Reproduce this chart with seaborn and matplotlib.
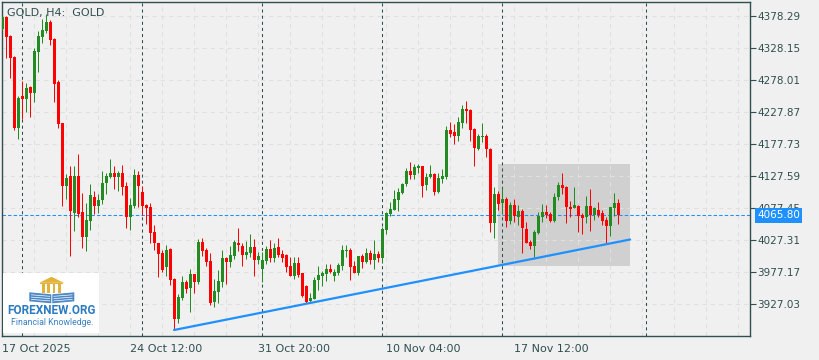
import matplotlib
matplotlib.use("Agg")
import matplotlib.pyplot as plt
import matplotlib.transforms as mtransforms
from matplotlib.patches import Rectangle, Polygon
import numpy as np
import pandas as pd
import seaborn as sns

# H4 candles, one per bar
opens = [
    4357.5, 4377.2, 4347.5, 4314.6, 4203.3, 4253.0, 4248.7, 4266.6, 4258.1, 4322.4,
    4345.9, 4355.3, 4368.9, 4342.3, 4274.9, 4210.7, 4112.4, 4127.6, 4069.2, 4127.6,
    4070.7, 4032.5, 4057.6, 4094.2, 4081.1, 4090.0, 4116.2, 4126.0, 4132.8, 4126.5,
    4132.8, 4111.9, 4063.8, 4080.6, 4128.7, 4102.5, 4082.2, 4079.0, 4039.8, 4023.1,
    4007.4, 3985.5, 4012.7, 3966.2, 3903.5, 3936.9, 3961.5, 3952.6, 3974.0, 3962.0,
    4024.2, 4011.7, 3994.4, 3930.2, 3946.3, 3962.0, 3999.1, 3992.8, 4002.2, 4023.1,
    4018.4, 4003.8, 4007.4, 4016.4, 3996.0, 3981.9, 3994.9, 4013.2, 3999.6, 4015.9,
    4005.4, 4003.8, 3986.6, 3971.4, 3991.8, 3976.1, 3955.2, 3932.2, 3934.9, 3964.6,
    3970.9, 3974.0, 3981.9, 3970.9, 3975.1, 3986.6, 4010.1, 4011.7, 3986.6, 3976.1,
    4002.7, 3993.3, 4007.4, 3996.0, 4005.4, 3999.6, 4043.0, 4068.1, 4074.3, 4090.0,
    4101.0, 4114.6, 4135.4, 4129.6, 4140.6, 4143.3, 4113.5, 4125.6, 4130.7, 4103.0,
    4122.4, 4126.5, 4199.7, 4196.6, 4190.8, 4211.1, 4232.6, 4231.0, 4201.2, 4169.9,
    4189.2, 4190.3, 4169.9, 4054.4, 4099.4, 4085.3, 4091.6, 4057.6, 4082.2, 4063.8,
    4073.2, 4044.5, 4024.7, 4017.9, 4038.8, 4063.8, 4071.7, 4068.1, 4057.6, 4094.2,
    4113.5, 4110.8, 4079.5, 4078.0, 4080.6, 4066.5, 4062.9, 4080.6, 4066.5, 4074.3,
    4069.6, 4058.6, 4049.7, 4078.0, 4085.8,
]
highs = [
    4378.3, 4378.8, 4349.0, 4315.6, 4253.0, 4276.0, 4272.9, 4268.2, 4328.7, 4355.3,
    4373.6, 4381.9, 4372.1, 4343.8, 4278.0, 4210.7, 4131.2, 4143.3, 4143.3, 4161.6,
    4100.5, 4084.8, 4114.6, 4104.1, 4098.9, 4135.9, 4131.8, 4154.2, 4143.3, 4135.4,
    4144.8, 4118.7, 4093.6, 4138.1, 4135.0, 4111.9, 4083.7, 4085.8, 4050.8, 4023.1,
    4011.7, 4019.0, 4014.3, 3968.3, 3942.2, 3970.9, 3964.6, 3981.9, 3974.0, 4028.4,
    4030.9, 4015.3, 4007.4, 3966.2, 3980.3, 4011.7, 4001.2, 4018.4, 4027.3, 4046.1,
    4023.1, 4026.2, 4036.7, 4028.9, 4009.0, 4009.0, 4018.4, 4027.3, 4022.1, 4030.9,
    4011.7, 4005.4, 4000.2, 4000.2, 4000.2, 3976.1, 3956.8, 3943.8, 3969.8, 3986.6,
    3978.7, 3989.7, 3990.2, 3981.4, 3991.8, 4019.5, 4019.5, 4014.3, 3994.4, 4002.7,
    4004.9, 4015.3, 4011.7, 4027.3, 4010.1, 4047.2, 4071.2, 4086.4, 4105.6, 4108.3,
    4116.6, 4140.6, 4149.5, 4146.4, 4146.4, 4143.3, 4131.8, 4144.8, 4131.8, 4131.8,
    4138.6, 4206.0, 4212.2, 4208.6, 4220.5, 4238.9, 4245.1, 4232.1, 4202.3, 4193.4,
    4210.7, 4193.4, 4171.0, 4109.9, 4104.1, 4108.3, 4094.2, 4087.3, 4091.1, 4082.2,
    4075.4, 4056.0, 4027.3, 4043.0, 4071.7, 4083.7, 4082.2, 4071.7, 4101.4, 4117.7,
    4131.8, 4111.9, 4088.4, 4109.9, 4082.2, 4069.2, 4096.3, 4107.2, 4078.6, 4087.3,
    4074.3, 4063.8, 4079.5, 4100.5, 4091.1,
]
lows = [
    4356.4, 4312.5, 4281.6, 4199.7, 4185.6, 4217.4, 4228.4, 4220.5, 4244.0, 4291.0,
    4336.5, 4352.2, 4332.9, 4244.0, 4203.3, 4081.1, 4092.0, 4002.7, 4041.9, 4063.8,
    4014.3, 4010.6, 4043.0, 4068.1, 4069.2, 4084.2, 4098.9, 4124.0, 4106.8, 4104.1,
    4097.8, 4046.6, 4043.0, 4077.0, 4079.5, 4066.5, 4052.9, 4023.1, 4011.7, 3969.8,
    3977.6, 3970.9, 3956.8, 3886.3, 3896.8, 3933.3, 3943.8, 3915.0, 3943.8, 3958.4,
    4002.2, 3986.6, 3925.5, 3922.8, 3928.1, 3954.1, 3958.4, 3985.5, 3997.5, 4010.1,
    3986.6, 3997.5, 4000.2, 3970.9, 3989.7, 3962.0, 3989.3, 3993.3, 3993.3, 4000.2,
    3993.3, 3977.6, 3971.4, 3965.7, 3969.8, 3937.5, 3929.1, 3930.6, 3934.4, 3949.0,
    3955.2, 3963.5, 3975.1, 3963.1, 3972.5, 3980.3, 4001.2, 3964.6, 3976.1, 3972.5,
    3983.0, 3990.8, 3989.7, 3981.9, 3993.3, 3990.8, 4036.7, 4064.9, 4074.3, 4073.2,
    4099.4, 4112.4, 4122.9, 4122.4, 4132.8, 4095.2, 4105.6, 4124.0, 4097.8, 4101.4,
    4117.1, 4122.9, 4189.2, 4177.7, 4182.9, 4202.3, 4211.1, 4182.9, 4143.3, 4168.4,
    4181.4, 4157.8, 4040.3, 4030.9, 4074.3, 4068.1, 4048.2, 4052.4, 4056.0, 4050.8,
    4006.5, 4022.1, 4012.7, 4000.2, 4036.7, 4056.0, 4062.3, 4055.1, 4055.1, 4090.0,
    4098.9, 4054.4, 4063.8, 4077.0, 4040.3, 4036.7, 4053.5, 4041.4, 4058.6, 4063.8,
    4050.8, 4022.1, 4033.6, 4064.9, 4052.4,
]
closes = [
    4377.2, 4345.9, 4313.0, 4203.3, 4250.3, 4248.7, 4265.0, 4258.1, 4324.0, 4347.0,
    4356.4, 4368.9, 4340.7, 4272.2, 4209.6, 4112.4, 4124.5, 4073.2, 4127.6, 4068.5,
    4032.5, 4059.1, 4097.4, 4081.1, 4090.0, 4116.2, 4127.6, 4132.3, 4125.6, 4132.8,
    4110.8, 4063.8, 4082.2, 4128.7, 4111.9, 4081.1, 4077.5, 4038.8, 4022.1, 4005.9,
    3980.3, 4011.7, 3964.6, 3903.5, 3938.5, 3962.0, 3951.0, 3974.0, 3962.0, 4024.2,
    4010.6, 3993.3, 3928.1, 3947.4, 3963.1, 3999.1, 3993.3, 4003.8, 4024.7, 4019.0,
    4003.8, 4008.5, 4016.4, 3996.0, 4002.2, 3996.0, 4013.2, 3998.6, 4015.3, 4003.8,
    3998.6, 3985.5, 3971.4, 3991.8, 3972.5, 3939.6, 3930.6, 3936.9, 3964.6, 3972.5,
    3976.1, 3981.9, 3976.7, 3977.6, 3988.1, 4011.7, 4011.7, 3985.5, 3976.1, 4002.7,
    3992.4, 4007.4, 3996.0, 4005.4, 3999.1, 4044.5, 4069.6, 4075.9, 4091.6, 4103.0,
    4115.1, 4135.4, 4129.6, 4141.7, 4143.7, 4111.9, 4125.6, 4130.7, 4103.0, 4124.5,
    4127.6, 4199.7, 4193.9, 4190.8, 4212.2, 4232.1, 4229.5, 4199.7, 4171.0, 4190.3,
    4190.8, 4169.5, 4054.4, 4099.4, 4083.7, 4091.6, 4057.6, 4082.2, 4064.9, 4073.2,
    4045.6, 4023.1, 4017.9, 4040.3, 4065.4, 4071.7, 4066.5, 4057.6, 4095.2, 4113.5,
    4109.3, 4078.6, 4075.9, 4082.2, 4065.4, 4062.3, 4080.6, 4066.5, 4077.0, 4066.5,
    4057.1, 4049.7, 4078.6, 4085.8, 4065.8,
]

date_labels = ["17 Oct 2025", "24 Oct 12:00", "31 Oct 20:00", "10 Nov 04:00", "17 Nov 12:00"]
date_label_bars = [0, 32, 64, 96, 128]
week_separator_bars = [5, 35, 65, 95, 125, 161]
price_ticks = [3927.03, 3977.17, 4027.31, 4077.45, 4127.59,
               4177.73, 4227.87, 4278.01, 4328.15, 4378.29]
last_price = 4065.80
trend_bars = [42.9, 156.9]
trend_prices = [3886.3, 4028.1]
box_bars = [123.9, 156.9]
box_prices = [3986.5, 4146.4]

bg = "#F0F0F0"
fg = "#2F4F4F"
bull = "#228B22"
bear = "#FF0000"
blue = "#1E90FF"

sns.set_theme(style="white")
plt.rcParams["font.family"] = ["DejaVu Sans"]
plt.rcParams["lines.scale_dashes"] = False

df = pd.DataFrame({"open": opens, "high": highs, "low": lows, "close": closes})
df["bar"] = np.arange(len(df))
df["color"] = np.where(df["close"] >= df["open"], bull, bear)
df["bottom"] = df[["open", "close"]].min(axis=1)
df["body"] = (df["close"] - df["open"]).abs().clip(lower=1.2)

fig = plt.figure(figsize=(8.2, 3.6), dpi=100)
fig.patch.set_facecolor(bg)
ax = fig.add_axes([2 / 820, 24 / 360, 748 / 820, 334 / 360])
ax.set_facecolor(bg)

# rectangle zone behind everything
ax.add_patch(Rectangle((box_bars[0], box_prices[0]), box_bars[1] - box_bars[0],
                       box_prices[1] - box_prices[0], facecolor="#D0D0D0",
                       edgecolor="none", zorder=0.5))

# grid
ax.set_xticks(date_label_bars)
ax.set_xticks(np.arange(0, 187, 8), minor=True)
ax.set_yticks(price_ticks)
ax.grid(True, which="both", color="#E0E0E0", linestyle=(0, (3, 3)), linewidth=0.75)
ax.set_axisbelow(True)

# weekly separators and last price line
for b in week_separator_bars:
    ax.axvline(b, color=fg, linestyle=(0, (2.2, 2.2)), linewidth=0.75, zorder=1)
ax.axhline(last_price, color=blue, linestyle=(0, (2.5, 1.5)), linewidth=0.75, zorder=1)

# candles: 4 px per bar, 3 px bodies, 1 px wicks
ax.vlines(df["bar"], df["low"], df["high"], colors=df["color"], linewidth=0.72, zorder=3)
ax.bar(df["bar"], df["body"], bottom=df["bottom"], width=0.75,
       color=df["color"], edgecolor="none", zorder=3)

# trend line
sns.lineplot(x=trend_bars, y=trend_prices, ax=ax, color=blue, linewidth=1.6, zorder=4)

# bar centres fall on pixel centres so bodies and wicks stay crisp
ax.set_xlim(-0.125, 186.875)
ax.set_ylim(3876.9, 4400.2)

ax.yaxis.tick_right()
ax.set_yticklabels([f"{p:.2f}" for p in price_ticks])
ax.set_xticklabels(date_labels)
for lab in ax.get_xticklabels():
    lab.set_ha("left")
ax.tick_params(axis="both", which="major", direction="out", length=4, width=0.8,
               colors=fg, labelsize=7.5, labelcolor=fg)
ax.tick_params(axis="x", labelsize=8, pad=1.5)
ax.tick_params(axis="y", pad=1)
ax.tick_params(which="minor", length=0)
ax.set_xlabel("")
ax.set_ylabel("")
for s in ax.spines.values():
    s.set_color(fg)
    s.set_linewidth(1.0)
    s.set_visible(True)

# last price label on the price scale (covers the tick label under it, as in MT4)
trans = mtransforms.blended_transform_factory(ax.transAxes, ax.transData)
ax.text(1.0095, last_price, f"{last_price:.2f}", transform=trans, ha="left", va="center",
        color="white", fontsize=7.5, clip_on=False, zorder=10,
        bbox=dict(boxstyle="square,pad=0.22", facecolor=blue, edgecolor="none"))

fig.text(7 / 820, 1 - 16 / 360, "GOLD, H4:  GOLD", color=fg, fontsize=8, va="baseline")

# watermark logo
lg = fig.add_axes([3.3 / 820, 27.3 / 360, 96 / 820, 59.4 / 360])
lg.set_xlim(0, 96)
lg.set_ylim(59.4, 0)
lg.axis("off")
lg.add_patch(Rectangle((0, 0), 96, 59.4, facecolor="white", edgecolor="none"))
gold = "#E2B23A"
lg.add_patch(Polygon([(36, 9.5), (48.2, 3.5), (60.5, 9.5)], closed=True, facecolor=gold, edgecolor="none"))
lg.add_patch(Rectangle((37, 9.3), 22.5, 1.5, facecolor=gold, edgecolor="none"))
for cx in [40.5, 45.5, 50.8, 56]:
    lg.add_patch(Rectangle((cx - 1.4, 10.5), 2.8, 9.5, facecolor=gold, edgecolor="none"))
lg.add_patch(Polygon([(26, 19), (48, 21), (48, 30), (26, 28)], closed=True,
                     facecolor="#4C88C6", edgecolor="none"))
lg.add_patch(Polygon([(49, 21), (71, 19), (71, 28), (49, 30)], closed=True,
                     facecolor="#4C88C6", edgecolor="none"))
for yy in [21.5, 23.8, 26.1]:
    lg.plot([28, 46.5], [yy, yy + 1.5], color="white", lw=0.5)
    lg.plot([50.5, 69], [yy + 1.5, yy], color="white", lw=0.5)
lg.text(48.5, 37.5, "FOREXNEW.ORG", ha="center", va="center", fontsize=8.5,
        fontweight="bold", family=["Roboto", "DejaVu Sans"], color="#2C7BC0")
lg.text(49, 49, "Financial Knowledge.", ha="center", va="center", fontsize=6.3,
        family=["Roboto", "DejaVu Sans"], color="#3A80C2")

fig.savefig("out.png", dpi=100, facecolor=bg)
